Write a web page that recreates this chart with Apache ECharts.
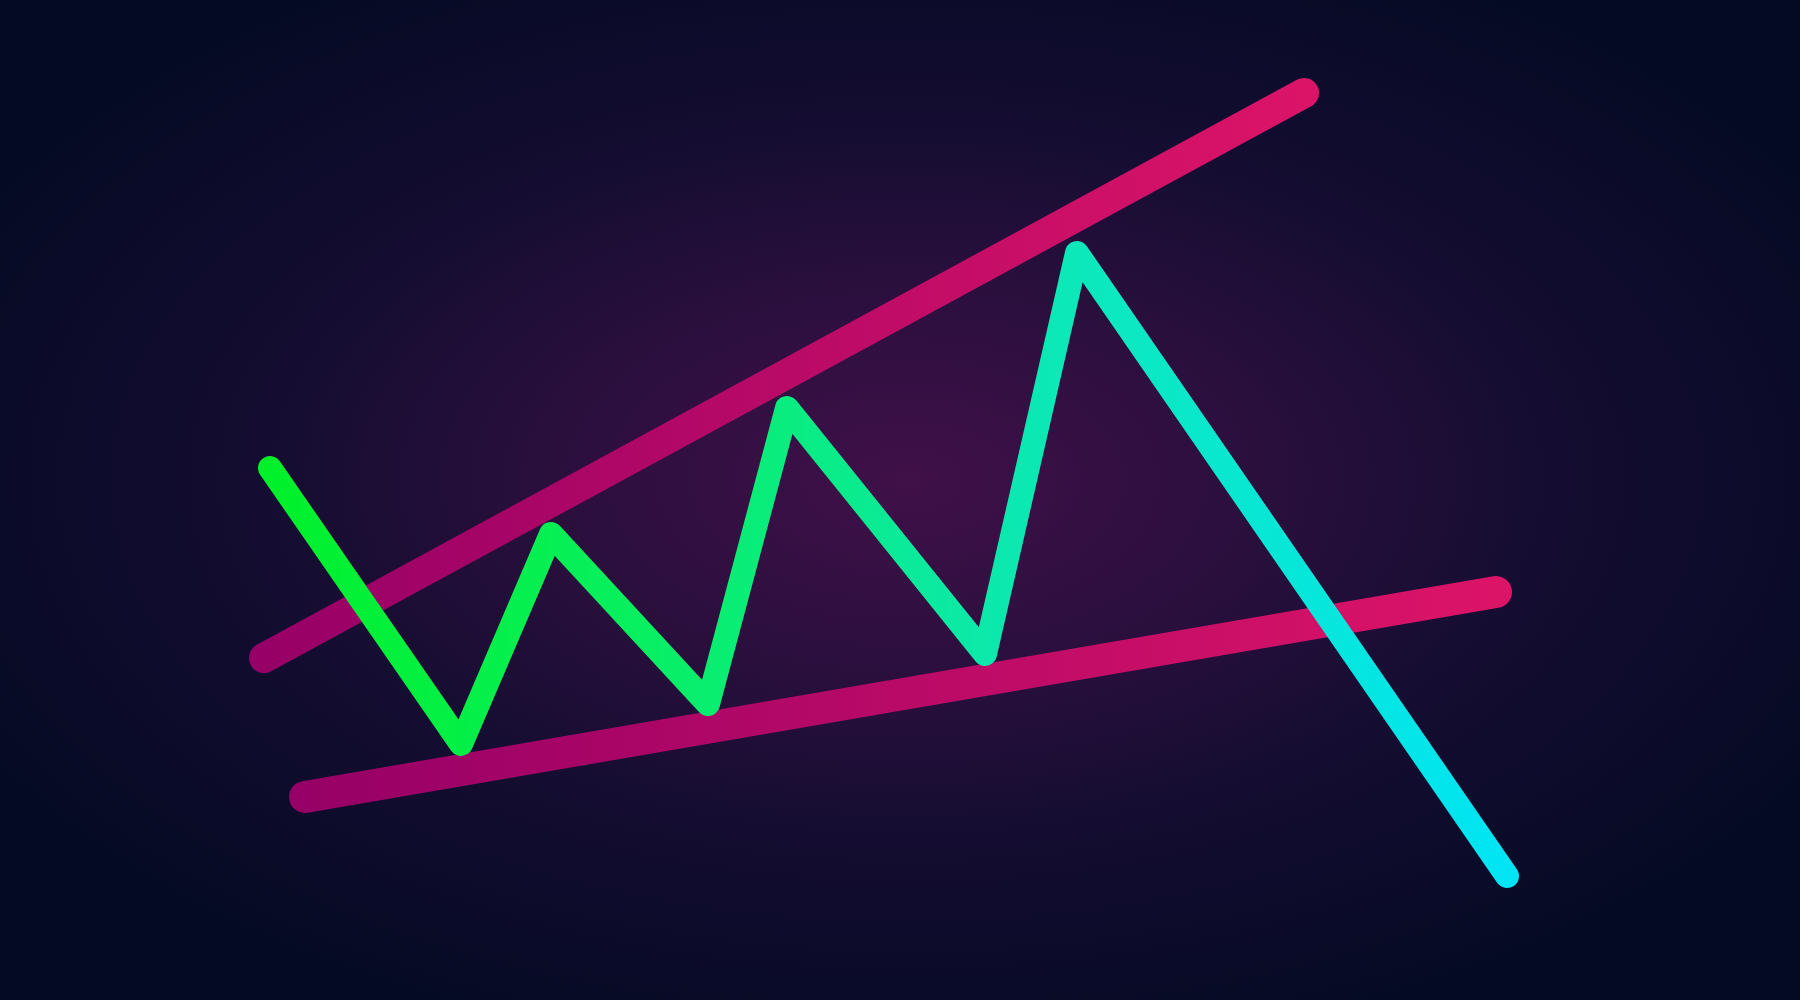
<!DOCTYPE html>
<html>
<head>
<meta charset="utf-8">
<style>html,body{margin:0;padding:0;background:#050b25;}#c{width:1800px;height:1000px;}</style>
<script src="https://cdn.jsdelivr.net/npm/echarts@6/dist/echarts.min.js"></script>
</head>
<body>
<div id="c"></div>
<script>
// Price path (x = time units, y = price units)
const waveX = [270, 461, 551, 708, 787, 985, 1077, 1507];
const waveY = [532, 256, 466, 296, 592, 346, 747, 124];
// Broadening wedge trend lines
const upperX = [264, 1304];
const upperY = [342, 907];
const lowerX = [305, 1496];
const lowerY = [203, 408];

const zip = (xs, ys) => xs.map((x, i) => [x, ys[i]]);

const chart = echarts.init(document.getElementById('c'), null, {renderer: 'canvas'});
const pinkGrad = () => new echarts.graphic.LinearGradient(0, 0, 1, 0, [
  {offset: 0, color: '#960066'},
  {offset: 1, color: '#dc1468'}
]);
const waveGrad = new echarts.graphic.LinearGradient(0, 0, 1, 0, [
  {offset: 0, color: '#00f028'},
  {offset: 0.3, color: '#08ef60'},
  {offset: 0.6, color: '#0ce8b0'},
  {offset: 0.68, color: '#0ce8c0'},
  {offset: 1, color: '#00e4f6'}
]);

chart.setOption({
  backgroundColor: '#050b25',
  animation: false,
  graphic: [{
    type: 'rect',
    x: 0, y: 0,
    scaleY: 1000 / 1800,
    shape: {x: 0, y: 0, width: 1800, height: 1800},
    style: {
      fill: new echarts.graphic.RadialGradient(0.504, 0.48, 0.6, [
        {offset: 0, color: '#401049'},
        {offset: 0.3, color: '#2c0f3e'},
        {offset: 0.6, color: '#140d31'},
        {offset: 1, color: '#040a23'}
      ])
    },
    z: -10,
    silent: true
  }],
  grid: {left: 0, right: 0, top: 0, bottom: 0},
  xAxis: {type: 'value', min: 0, max: 1800, show: false},
  yAxis: {type: 'value', min: 0, max: 1000, show: false},
  series: [
    {
      type: 'line', data: zip(upperX, upperY), symbol: 'none', z: 2,
      lineStyle: {width: 30, cap: 'round', color: pinkGrad()}
    },
    {
      type: 'line', data: zip(lowerX, lowerY), symbol: 'none', z: 2,
      lineStyle: {width: 32, cap: 'round', color: pinkGrad()}
    },
    {
      type: 'line', data: zip(waveX, waveY), symbol: 'none', z: 3,
      lineStyle: {width: 24, cap: 'round', join: 'round', color: waveGrad}
    }
  ]
});
</script>
</body>
</html>
